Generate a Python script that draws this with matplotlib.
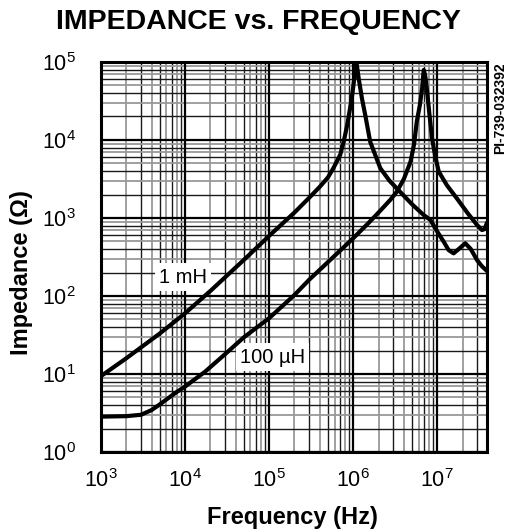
import numpy as np
import matplotlib
matplotlib.use("Agg")
import matplotlib.pyplot as plt

plt.rcParams['font.family'] = ['Liberation Sans', 'DejaVu Sans']
plt.rcParams['mathtext.fontset'] = 'custom'
plt.rcParams['mathtext.rm'] = 'Liberation Sans'
plt.rcParams['mathtext.it'] = 'Liberation Sans:italic'
plt.rcParams['mathtext.bf'] = 'Liberation Sans:bold'

# 1 mH choke
freq_1mh = [1e3, 2e3, 5e3, 1e4, 2e4, 5e4, 1e5, 2e5, 3e5, 4e5, 5e5, 5.8e5, 7e5,
            7.7e5, 8.5e5, 9.6e5, 1.03e6, 1.09e6, 1.16e6, 1.27e6, 1.4e6, 1.59e6,
            1.8e6, 2.1e6, 2.7e6, 3.6e6, 5e6, 6.9e6, 8.3e6, 1e7, 1.19e7, 1.36e7,
            1.56e7, 1.8e7, 2.15e7, 2.5e7, 2.97e7, 3.4e7, 3.9e7]
z_1mh = [9.4, 15.9, 33, 60, 116, 290, 590, 1175, 1820, 2510, 3310, 4340, 6460,
         9500, 15800, 34000, 62000, 100000, 62000, 34000, 20000, 9500,
         6700, 4340, 3000, 2170, 1500, 1090, 940, 667, 497, 389,
         352, 400, 474, 400, 288, 240, 209]

# 100 uH choke
freq_100uh = [1e3, 2e3, 3e3, 4e3, 5e3, 6.3e3, 8e3, 1e4, 1.73e4, 3e4, 5e4, 1e5,
              2e5, 3e5, 5.8e5, 1e6, 1.5e6, 2e6, 2.75e6, 3.3e6, 4e6, 4.8e6,
              5.3e6, 5.7e6, 6.2e6, 6.6e6, 6.75e6, 6.9e6, 7.1e6, 7.25e6, 7.5e6,
              8e6, 8.65e6, 9.5e6, 1.04e7, 1.3e7, 1.71e7, 2.3e7, 2.97e7, 3.4e7,
              3.65e7, 3.9e7]
z_100uh = [2.84, 2.88, 3.0, 3.45, 4.07, 4.9, 5.9, 6.9, 10.7, 18, 29.5, 52,
           103, 162, 316, 550, 850, 1175, 1700, 2170, 3160, 5250,
           8900, 17200, 28000, 45700, 62000, 79000, 70000, 62000, 45700,
           23000, 10500, 6000, 3930, 2630, 1780, 1150, 813, 700,
           720, 870]

x_ticks = [1e3, 1e4, 1e5, 1e6, 1e7]
x_labels = ['$10^{3}$', '$10^{4}$', '$10^{5}$', '$10^{6}$', '$10^{7}$']
y_ticks = [1e0, 1e1, 1e2, 1e3, 1e4, 1e5]
y_labels = ['$10^{0}$', '$10^{1}$', '$10^{2}$', '$10^{3}$', '$10^{4}$', '$10^{5}$']

fig = plt.figure(figsize=(5.09, 5.32), dpi=100)
ax = fig.add_axes([0.1984, 0.1504, 0.7584, 0.7331])
xmin, xmax = 1e3, 3.9e7
ymin, ymax = 1e0, 1e5
ax.set_xscale('log')
ax.set_yscale('log')
ax.set_xlim(xmin, xmax)
ax.set_ylim(ymin, ymax)

# log grid, minor lines alternate dark / grey
for dec in range(3, 8):
    for m in range(2, 10):
        v = m * 10.0 ** dec
        if v >= xmax:
            break
        c, lw = ('#1a1a1a', 1.0) if m % 2 == 1 else ('#999999', 1.3)
        ax.axvline(v, color=c, lw=lw, zorder=1)
for dec in range(0, 5):
    for m in range(2, 10):
        v = m * 10.0 ** dec
        c, lw = ('#1a1a1a', 1.0) if m % 2 == 0 else ('#999999', 1.3)
        ax.axhline(v, color=c, lw=lw, zorder=1)
for v in x_ticks:
    ax.axvline(v, color='black', lw=1.6, zorder=1.5)
for v in y_ticks:
    ax.axhline(v, color='black', lw=1.6, zorder=1.5)

ax.plot(freq_1mh, z_1mh, color='black', lw=3, solid_joinstyle='round',
        solid_capstyle='round', zorder=3)
ax.plot(freq_100uh, z_100uh, color='black', lw=3, solid_joinstyle='round',
        solid_capstyle='round', zorder=3)

# labels sit under the curves, boxes blank out the grid
ax.text(9.5e3, 175, '1 mH', fontsize=14.5, ha='center', va='center', zorder=2.5,
        bbox=dict(facecolor='white', edgecolor='none', pad=3))
ax.text(1.1e5, 16.5, '100 \u00b5H', fontsize=14.5, ha='center', va='center', zorder=2.5,
        bbox=dict(facecolor='white', edgecolor='none', pad=3))

ax.xaxis.set_major_locator(matplotlib.ticker.FixedLocator(x_ticks))
ax.xaxis.set_minor_locator(matplotlib.ticker.NullLocator())
ax.yaxis.set_major_locator(matplotlib.ticker.FixedLocator(y_ticks))
ax.yaxis.set_minor_locator(matplotlib.ticker.NullLocator())
ax.set_xticklabels(x_labels, fontsize=15.5)
ax.set_yticklabels(y_labels, fontsize=15.5)
ax.tick_params(length=0, pad=12)
ax.tick_params(axis='y', pad=18)

for s in ax.spines.values():
    s.set_linewidth(2.2)
    s.set_zorder(5)

fig.text(0.507, 0.958, 'IMPEDANCE vs. FREQUENCY', fontsize=20.5, fontweight='bold',
         ha='center', va='center')
fig.text(0.574, 0.028, 'Frequency (Hz)', fontsize=17, fontweight='bold',
         ha='center', va='center')
fig.text(0.043, 0.487, 'Impedance (\u03a9)', fontsize=17, fontweight='bold',
         ha='center', va='center', rotation=90)
fig.text(0.983, 0.883, 'PI-739-032392', fontsize=10, fontweight='bold',
         ha='center', va='top', rotation=90)

fig.savefig('out.png', dpi=100)
